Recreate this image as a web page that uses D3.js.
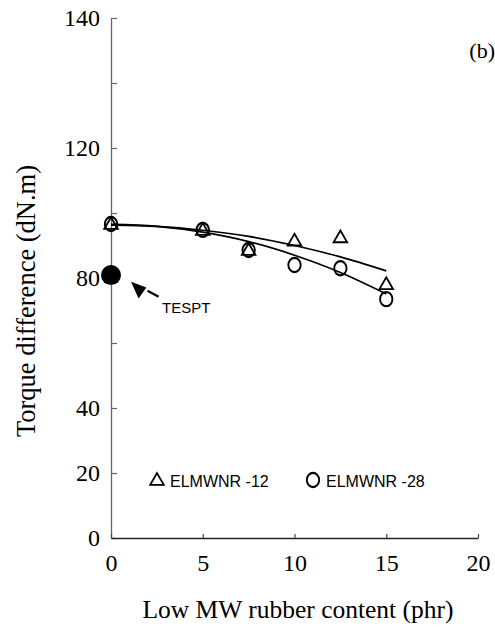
<!DOCTYPE html>
<html>
<head>
<meta charset="utf-8">
<script src="https://cdn.jsdelivr.net/npm/d3@7/dist/d3.min.js"></script>
<style>
    body { margin: 0; background: #fff; }
    .serif { font-family: "Liberation Serif", "Times New Roman", serif; }
    .sans { font-family: "Liberation Sans", Arial, sans-serif; }
</style>
</head>
<body>
<div id="chart"></div>
<script>
// measured points
var contentPhr = [0, 5, 7.5, 10, 12.5, 15];
var torque12 = [96.3, 94.5, 88.3, 91.2, 92.2, 77.8];
var torque28 = [96.6, 94.8, 88.6, 84.0, 83.0, 73.5];

// trend lines
var fitPhr = [0, 2.5, 5, 7.5, 10, 12.5, 15];
var fit12 = [96.3, 95.9, 94.7, 92.8, 90.0, 86.5, 82.2];
var fit28 = [96.5, 95.9, 94.1, 91.2, 87.0, 81.7, 75.1];

var tesptPoint = [0, 80.9];

var xTicks = [0, 5, 10, 15, 20];
var yTicks = [0, 20, 40, 60, 80, 100, 120, 140, 160];
var yTickLabels = ['0', '20', '40', '', '80', '', '120', '', '140'];
var seriesNames = ['ELMWNR -12', 'ELMWNR -28'];

(function()
{
    var width = 495, height = 627;

    var x = d3.scaleLinear().domain([0, 20]).range([111, 478]),
        y = d3.scaleLinear().domain([0, 160]).range([538, 18]);

    var svg = d3.select('#chart').append('svg')
        .attr('width', width)
        .attr('height', height);

    // axes
    var yAxis = svg.append('g')
        .attr('class', 'serif')
        .attr('transform', 'translate(' + x(0) + ',0)')
        .call(d3.axisLeft(y).tickValues(yTicks).tickSizeInner(-6).tickSizeOuter(0).tickPadding(11)
            .tickFormat(function(d, i) { return yTickLabels[i]; }));
    yAxis.select('.domain').attr('stroke', '#666').attr('stroke-width', 1.3);
    yAxis.selectAll('.tick line').attr('stroke', '#666').attr('stroke-width', 1.2);
    yAxis.selectAll('.tick text').attr('font-size', 24).attr('fill', '#000');

    var xAxis = svg.append('g')
        .attr('class', 'serif')
        .attr('transform', 'translate(0,' + y(0) + ')')
        .call(d3.axisBottom(x).tickValues(xTicks).tickSizeInner(-4).tickSizeOuter(0).tickPadding(16));
    xAxis.select('.domain').attr('stroke', '#222').attr('stroke-width', 1.3);
    xAxis.selectAll('.tick line').attr('stroke', '#444').attr('stroke-width', 1.2);
    xAxis.selectAll('.tick text').attr('font-size', 24).attr('fill', '#000');

    // titles
    svg.append('text')
        .attr('class', 'serif')
        .attr('font-size', 26.5)
        .attr('text-anchor', 'middle')
        .attr('transform', 'translate(35,301) rotate(-90)')
        .text('Torque difference (dN.m)');

    svg.append('text')
        .attr('class', 'serif')
        .attr('font-size', 25.5)
        .attr('text-anchor', 'middle')
        .attr('x', 298)
        .attr('y', 618)
        .text('Low MW rubber content (phr)');

    svg.append('text')
        .attr('class', 'serif')
        .attr('font-size', 22)
        .attr('text-anchor', 'end')
        .attr('x', 495)
        .attr('y', 58)
        .text('(b)');

    // trend lines
    var line = d3.line()
        .x(function(d) { return x(d[0]); })
        .y(function(d) { return y(d[1]); })
        .curve(d3.curveMonotoneX);

    [fit12, fit28].forEach(function(fit)
    {
        svg.append('path')
            .datum(fitPhr.map(function(v, i) { return [v, fit[i]]; }))
            .attr('d', line)
            .attr('fill', 'none')
            .attr('stroke', '#000')
            .attr('stroke-width', 1.7);
    });

    // markers
    var tri = d3.symbol().type(d3.symbolTriangle).size(80),
        circ = d3.symbol().type(d3.symbolCircle).size(120);

    svg.append('g').selectAll('path')
        .data(contentPhr.map(function(v, i) { return [v, torque28[i]]; }))
        .join('path')
        .attr('d', circ)
        .attr('transform', function(d) { return 'translate(' + x(d[0]) + ',' + y(d[1]) + ') scale(1,1.15)'; })
        .attr('fill', 'none')
        .attr('stroke', '#000')
        .attr('stroke-width', 1.9);

    svg.append('g').selectAll('path')
        .data(contentPhr.map(function(v, i) { return [v, torque12[i]]; }))
        .join('path')
        .attr('d', tri)
        .attr('transform', function(d) { return 'translate(' + x(d[0]) + ',' + y(d[1]) + ')'; })
        .attr('fill', 'none')
        .attr('stroke', '#000')
        .attr('stroke-width', 1.8);

    // TESPT point and pointer
    var tx = x(tesptPoint[0]), ty = y(tesptPoint[1]);

    svg.append('circle')
        .attr('cx', tx)
        .attr('cy', ty)
        .attr('r', 10)
        .attr('fill', '#000');

    svg.append('path')
        .attr('d', 'M' + (tx + 20) + ',' + (ty + 6.7) + 'L' + (tx + 35.3) + ',' + (ty + 12.3) + 'L' + (tx + 27.6) + ',' + (ty + 23.3) + 'Z')
        .attr('fill', '#000');

    svg.append('line')
        .attr('x1', tx + 36.6).attr('y1', ty + 15.7)
        .attr('x2', tx + 47.6).attr('y2', ty + 21.7)
        .attr('stroke', '#000')
        .attr('stroke-width', 2.2);

    svg.append('text')
        .attr('class', 'sans')
        .attr('font-size', 15)
        .attr('x', tx + 51)
        .attr('y', ty + 38)
        .text('TESPT');

    // legend
    var legend = svg.append('g').attr('class', 'sans');

    legend.append('path')
        .attr('d', tri)
        .attr('transform', 'translate(157,481)')
        .attr('fill', 'none')
        .attr('stroke', '#000')
        .attr('stroke-width', 1.8);

    legend.append('path')
        .attr('d', circ)
        .attr('transform', 'translate(313,480) scale(1,1.15)')
        .attr('fill', 'none')
        .attr('stroke', '#000')
        .attr('stroke-width', 1.9);

    legend.selectAll('text')
        .data(seriesNames)
        .join('text')
        .attr('font-size', 16)
        .attr('x', function(d, i) { return i ? 326 : 170; })
        .attr('y', 487)
        .text(function(d) { return d; });
})();
</script>
</body>
</html>
